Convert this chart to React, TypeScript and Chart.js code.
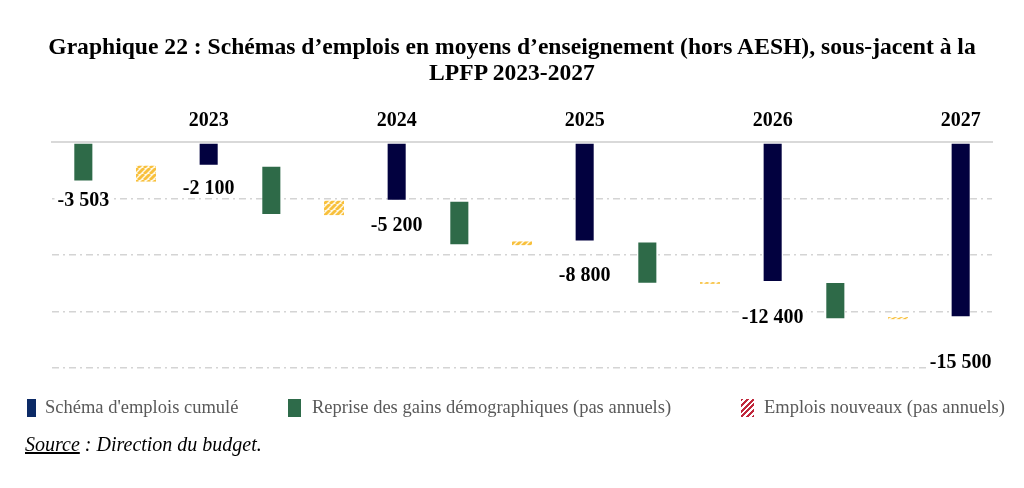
import React, { useEffect, useRef } from 'react';
import { Chart, registerables } from 'chart.js';

Chart.register(...registerables);

// ---- Data ----
const years = ['2023', '2024', '2025', '2026', '2027'];
const schemaCumule = [-2100, -5200, -8800, -12400, -15500];
const repriseGains = [-3503, -4370, -3930, -3750, -3280];
const emploisNouveaux = [1403, 1270, 330, 150, 180];
const yTicks = [0, -5000, -10000, -15000, -20000];

// ---- Layout constants (not data) ----
const labelOffsets = [19, 23, 25, 34, 36, 46];

const NAVY = '#02013f';
const GREEN = '#2e6a48';
const SERIF = '"Liberation Serif", "DejaVu Serif", serif';

function fmt(v: number) {
  const s = Math.abs(Math.round(v)).toString().replace(/\B(?=(\d{3})+(?!\d))/g, ' ');
  return (v < 0 ? '-' : '') + s;
}

function buildSeries() {
  const n = years.length * 3;
  const tickLabels: string[] = [];
  const green: ([number, number] | null)[] = new Array(n).fill(null);
  const yellow: ([number, number] | null)[] = new Array(n).fill(null);
  const navy: ([number, number] | null)[] = new Array(n).fill(null);
  const labelled: { ds: number; slot: number; value: number }[] = [];
  let prev = 0;
  years.forEach((yr, i) => {
    const gEnd = prev + repriseGains[i];
    const yEnd = gEnd + emploisNouveaux[i];
    green[3 * i] = [prev, gEnd];
    yellow[3 * i + 1] = [gEnd, yEnd];
    navy[3 * i + 2] = [0, schemaCumule[i]];
    tickLabels.push('', '', yr);
    if (i === 0) labelled.push({ ds: 1, slot: 0, value: repriseGains[0] });
    labelled.push({ ds: 0, slot: 3 * i + 2, value: schemaCumule[i] });
    prev = schemaCumule[i];
  });
  return { tickLabels, green, yellow, navy, labelled };
}

function makeHatch(): CanvasPattern | string {
  const c = document.createElement('canvas');
  const s = 6;
  c.width = s;
  c.height = s;
  const g = c.getContext('2d');
  if (!g) return '#f9c846';
  g.fillStyle = '#fff8e6';
  g.fillRect(0, 0, s, s);
  g.strokeStyle = '#f8c03c';
  g.lineWidth = 2.8;
  for (const o of [-s, 0, s]) {
    g.beginPath();
    g.moveTo(o, s);
    g.lineTo(o + s, 0);
    g.stroke();
  }
  const p = g.createPattern(c, 'repeat');
  return p || '#f9c846';
}

export default function App() {
  const ref = useRef<HTMLCanvasElement | null>(null);

  useEffect(() => {
    if (!ref.current) return;
    const { tickLabels, green, yellow, navy, labelled } = buildSeries();
    const hatch = makeHatch();

    const labelPlugin = {
      id: 'valueLabels',
      afterDatasetsDraw(chart: any) {
        const ctx = chart.ctx;
        ctx.save();
        ctx.font = `bold 20px ${SERIF}`;
        ctx.textAlign = 'center';
        ctx.textBaseline = 'middle';
        labelled.forEach((l, k) => {
          const el = chart.getDatasetMeta(l.ds).data[l.slot];
          if (!el) return;
          const bottom = Math.max(el.y, el.base);
          const txt = fmt(l.value);
          const yy = bottom + labelOffsets[k];
          const w = ctx.measureText(txt).width;
          ctx.fillStyle = '#ffffff';
          ctx.fillRect(el.x - w / 2 - 3, yy - 9, w + 6, 18);
          ctx.fillStyle = '#000000';
          ctx.fillText(txt, el.x, yy);
        });
        ctx.restore();
      },
    };

    const chart = new Chart(ref.current, {
      type: 'bar',
      data: {
        labels: tickLabels,
        datasets: [
          {
            label: "Schéma d'emplois cumulé",
            data: navy as any,
            backgroundColor: NAVY,
            borderColor: 'rgba(255,255,255,0.3)',
            borderWidth: 1,
            borderSkipped: false,
            grouped: false,
            barPercentage: 0.32,
            categoryPercentage: 1,
          },
          {
            label: 'Reprise des gains démographiques (pas annuels)',
            data: green as any,
            backgroundColor: GREEN,
            borderColor: 'rgba(255,255,255,0.3)',
            borderWidth: 1,
            borderSkipped: false,
            grouped: false,
            barPercentage: 0.32,
            categoryPercentage: 1,
          },
          {
            label: 'Emplois nouveaux (pas annuels)',
            data: yellow as any,
            backgroundColor: hatch as any,
            borderWidth: 0,
            grouped: false,
            barPercentage: 0.32,
            categoryPercentage: 1,
          },
        ],
      },
      options: {
        animation: false,
        responsive: false,
        maintainAspectRatio: false,
        layout: { padding: { left: 52, right: 32, top: 102, bottom: 120 } },
        plugins: {
          legend: { display: false },
          tooltip: { enabled: false },
          title: { display: false },
        },
        scales: {
          x: {
            position: 'top',
            grid: { display: false, drawTicks: false },
            border: { display: true, color: '#d9d9d9', width: 2 },
            ticks: {
              color: '#000000',
              font: { family: SERIF, size: 20, weight: 'bold' },
              padding: 9,
              maxRotation: 0,
              autoSkip: false,
            },
            afterFit: (s: any) => {
              s.height = 40;
            },
          },
          y: {
            min: yTicks[yTicks.length - 1],
            max: yTicks[0],
            afterBuildTicks: (s: any) => {
              s.ticks = yTicks.map((v) => ({ value: v }));
            },
            ticks: { display: false },
            grid: {
              drawTicks: false,
              color: (c: any) => (c.tick && c.tick.value === 0 ? 'rgba(0,0,0,0)' : '#d4d4d4'),
              lineWidth: 1.5,
            },
            border: { display: false, dash: [7, 4, 2, 4] },
            afterFit: (s: any) => {
              s.width = 0;
            },
          },
        },
      },
      plugins: [labelPlugin],
    });

    return () => chart.destroy();
  }, []);

  const legendText: React.CSSProperties = {
    position: 'absolute',
    top: 396,
    fontFamily: SERIF,
    fontSize: 18.5,
    color: '#595959',
    lineHeight: '22px',
    whiteSpace: 'nowrap',
  };
  const swatch: React.CSSProperties = { position: 'absolute', top: 399, height: 18 };

  return (
    <div style={{ position: 'absolute', left: 0, top: 0, width: 1024, height: 488, background: '#fff' }}>
      <canvas ref={ref} width={1024} height={488} style={{ position: 'absolute', left: 0, top: 0 }} />
      <div
        style={{
          position: 'absolute',
          left: 0,
          top: 33,
          width: 1024,
          textAlign: 'center',
          fontFamily: SERIF,
          fontWeight: 'bold',
          fontSize: 23.6,
          lineHeight: '26px',
          color: '#000',
          whiteSpace: 'nowrap',
        }}
      >
        Graphique 22 : Schémas d’emplois en moyens d’enseignement (hors AESH), sous-jacent à la
        <br />
        LPFP 2023-2027
      </div>
      <div style={{ ...swatch, left: 27, width: 9, background: '#0c2a66' }} />
      <div style={{ ...legendText, left: 45 }}>Schéma d'emplois cumulé</div>
      <div style={{ ...swatch, left: 288, width: 13, background: '#2e6b4a' }} />
      <div style={{ ...legendText, left: 312 }}>Reprise des gains démographiques (pas annuels)</div>
      <div
        style={{
          ...swatch,
          left: 741,
          width: 13,
          background: 'repeating-linear-gradient(135deg, #c0283c 0px, #c0283c 2px, #ffffff 2px, #ffffff 4px)',
        }}
      />
      <div style={{ ...legendText, left: 764 }}>Emplois nouveaux (pas annuels)</div>
      <div
        style={{
          position: 'absolute',
          left: 25,
          top: 433,
          fontFamily: SERIF,
          fontStyle: 'italic',
          fontSize: 20,
          lineHeight: '22px',
          color: '#000',
          whiteSpace: 'nowrap',
        }}
      >
        <span style={{ textDecoration: 'underline' }}>Source</span> : Direction du budget.
      </div>
    </div>
  );
}
